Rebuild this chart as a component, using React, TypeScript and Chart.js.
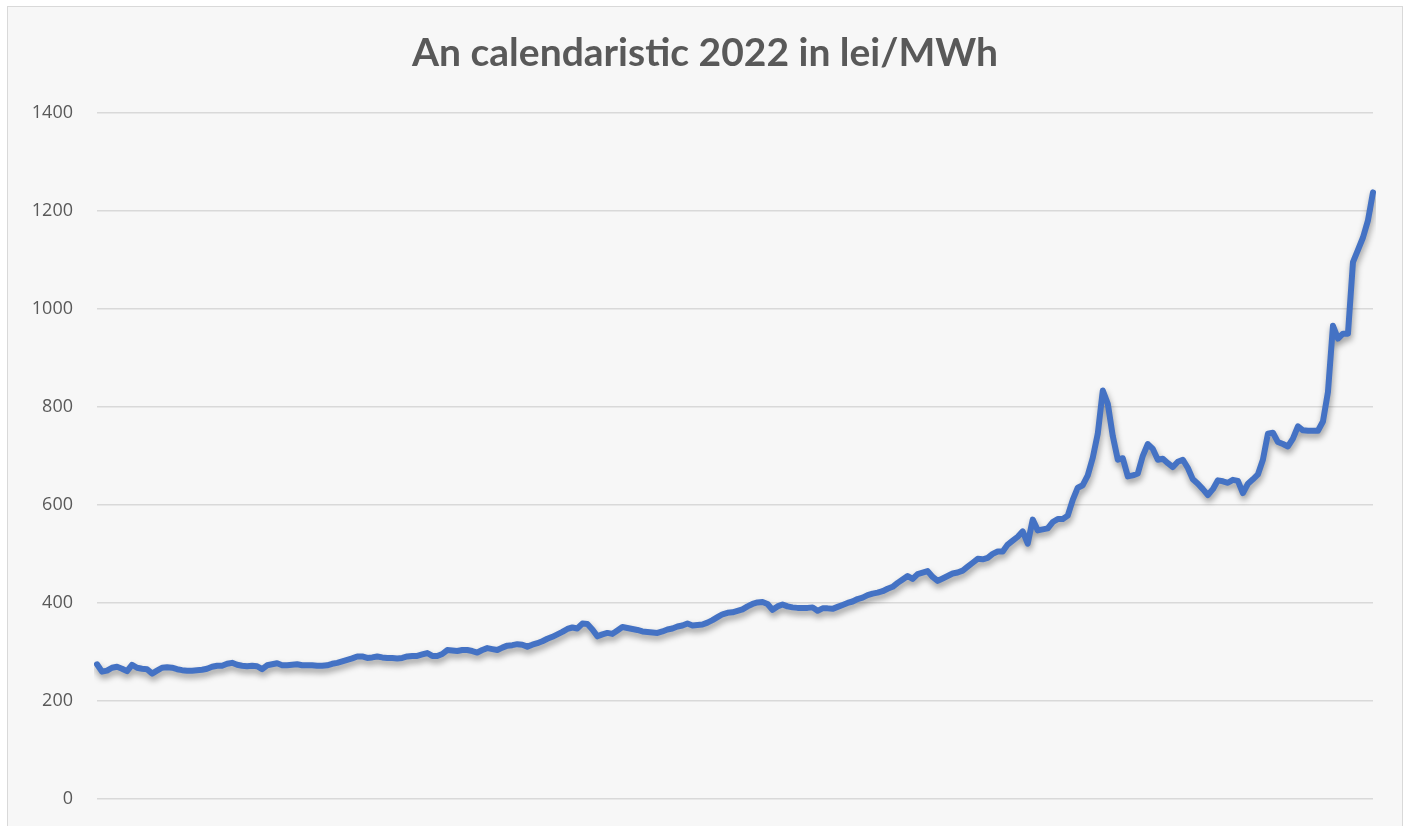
import React, { useEffect, useRef } from "react";
import { Chart, registerables } from "chart.js";

Chart.register(...registerables);

const TITLE = "An calendaristic 2022 in lei/MWh";
const Y_TICKS = [0, 200, 400, 600, 800, 1000, 1200, 1400];

const PRICES: number[] = [
  275, 260, 262, 268, 270, 266, 261, 274, 268, 266,
  265, 256, 262, 268, 269, 268, 265, 263, 262, 262,
  263, 264, 266, 270, 272, 272, 276, 278, 274, 272,
  271, 272, 271, 265, 273, 275, 277, 273, 273, 274,
  275, 273, 273, 273, 272, 272, 273, 276, 278, 281,
  284, 287, 291, 291, 288, 289, 291, 289, 288, 288,
  287, 288, 291, 292, 292, 295, 298, 292, 292, 296,
  304, 303, 302, 304, 304, 302, 299, 304, 308, 306,
  304, 309, 313, 314, 316, 315, 311, 315, 318, 322,
  327, 331, 336, 341, 347, 350, 348, 358, 357, 346,
  332, 336, 339, 337, 344, 351, 349, 347, 345, 342,
  341, 340, 339, 342, 346, 348, 352, 354, 358, 354,
  355, 356, 360, 365, 371, 377, 380, 381, 384, 387,
  393, 398, 401, 402, 398, 386, 393, 397, 393, 391,
  390, 390, 390, 391, 384, 389, 389, 388, 392, 396,
  400, 403, 408, 411, 416, 419, 421, 424, 429, 433,
  441, 448, 455, 449, 459, 462, 465, 453, 445, 450,
  455, 460, 462, 466, 474, 482, 490, 489, 492, 500,
  505, 505, 519, 527, 535, 546, 521, 570, 548, 550,
  552, 565, 571, 571, 578, 610, 635, 640, 660, 696,
  745, 833, 806, 740, 692, 695, 658, 660, 664, 700,
  724, 714, 692, 694, 685, 677, 688, 692, 675, 652,
  643, 632, 620, 632, 650, 648, 645, 651, 649, 624,
  643, 652, 662, 692, 745, 747, 728, 724, 719, 735,
  760, 752, 751, 751, 751, 770, 830, 965, 939, 949,
  949, 1095, 1120, 1145, 1180, 1237,
];

const DAYS: string[] = PRICES.map((_, i) => String(i + 1));

const shadowPlugin = {
  id: "lineShadow",
  beforeDatasetsDraw(chart: any) {
    const ctx = chart.ctx;
    ctx.save();
    ctx.shadowColor = "rgba(0,0,0,0.38)";
    ctx.shadowBlur = 6;
    ctx.shadowOffsetX = 1;
    ctx.shadowOffsetY = 4;
  },
  afterDatasetsDraw(chart: any) {
    chart.ctx.restore();
  },
};

export default function App() {
  const ref = useRef<HTMLCanvasElement | null>(null);

  useEffect(() => {
    if (!ref.current) return;
    const chart = new Chart(ref.current, {
      type: "line",
      data: {
        labels: DAYS,
        datasets: [
          {
            data: PRICES,
            borderColor: "#4472C4",
            borderWidth: 6,
            pointRadius: 0,
            tension: 0,
            borderJoinStyle: "round",
            borderCapStyle: "round",
            fill: false,
            yAxisID: "y",
          },
        ],
      },
      options: {
        animation: false,
        responsive: false,
        maintainAspectRatio: false,
        layout: { padding: { left: 0, right: 0, top: 0, bottom: 19 } },
        plugins: {
          legend: { display: false },
          tooltip: { enabled: false },
          title: {
            display: true,
            text: TITLE,
            color: "#595959",
            font: { family: "Lato, 'Open Sans', sans-serif", size: 39, weight: "bold", lineHeight: 1.2 },
            padding: { top: 23, bottom: 35.6 },
          },
        },
        scales: {
          x: {
            display: false,
            offset: false,
          },
          y: {
            position: "left",
            min: 0,
            max: 1400,
            afterBuildTicks: (scale: any) => {
              scale.ticks = Y_TICKS.map((v) => ({ value: v }));
            },
            afterFit: (scale: any) => {
              scale.width = 89;
            },
            border: { display: false },
            grid: { color: "#d9d9d9", lineWidth: 1.5, drawTicks: false },
            ticks: {
              color: "#595959",
              padding: 24,
              font: { family: "'Open Sans', sans-serif", size: 18 },
              callback: (v: any) => String(v),
            },
          },
          yRight: {
            position: "right",
            display: true,
            min: 0,
            max: 1400,
            afterFit: (scale: any) => {
              scale.width = 29;
            },
            border: { display: false },
            grid: { display: false, drawTicks: false },
            ticks: { display: false },
          },
        },
      },
      plugins: [shadowPlugin],
    });
    return () => chart.destroy();
  }, []);

  return (
    <div
      style={{
        position: "absolute",
        left: 7,
        top: 6,
        width: 1394,
        height: 819,
        background: "#f7f7f7",
        borderTop: "1px solid #d9d9d9",
        borderLeft: "1px solid #d9d9d9",
        borderRight: "1px solid #d9d9d9",
        overflow: "hidden",
      }}
    >
      <canvas ref={ref} width={1394} height={827} style={{ display: "block" }} />
    </div>
  );
}
